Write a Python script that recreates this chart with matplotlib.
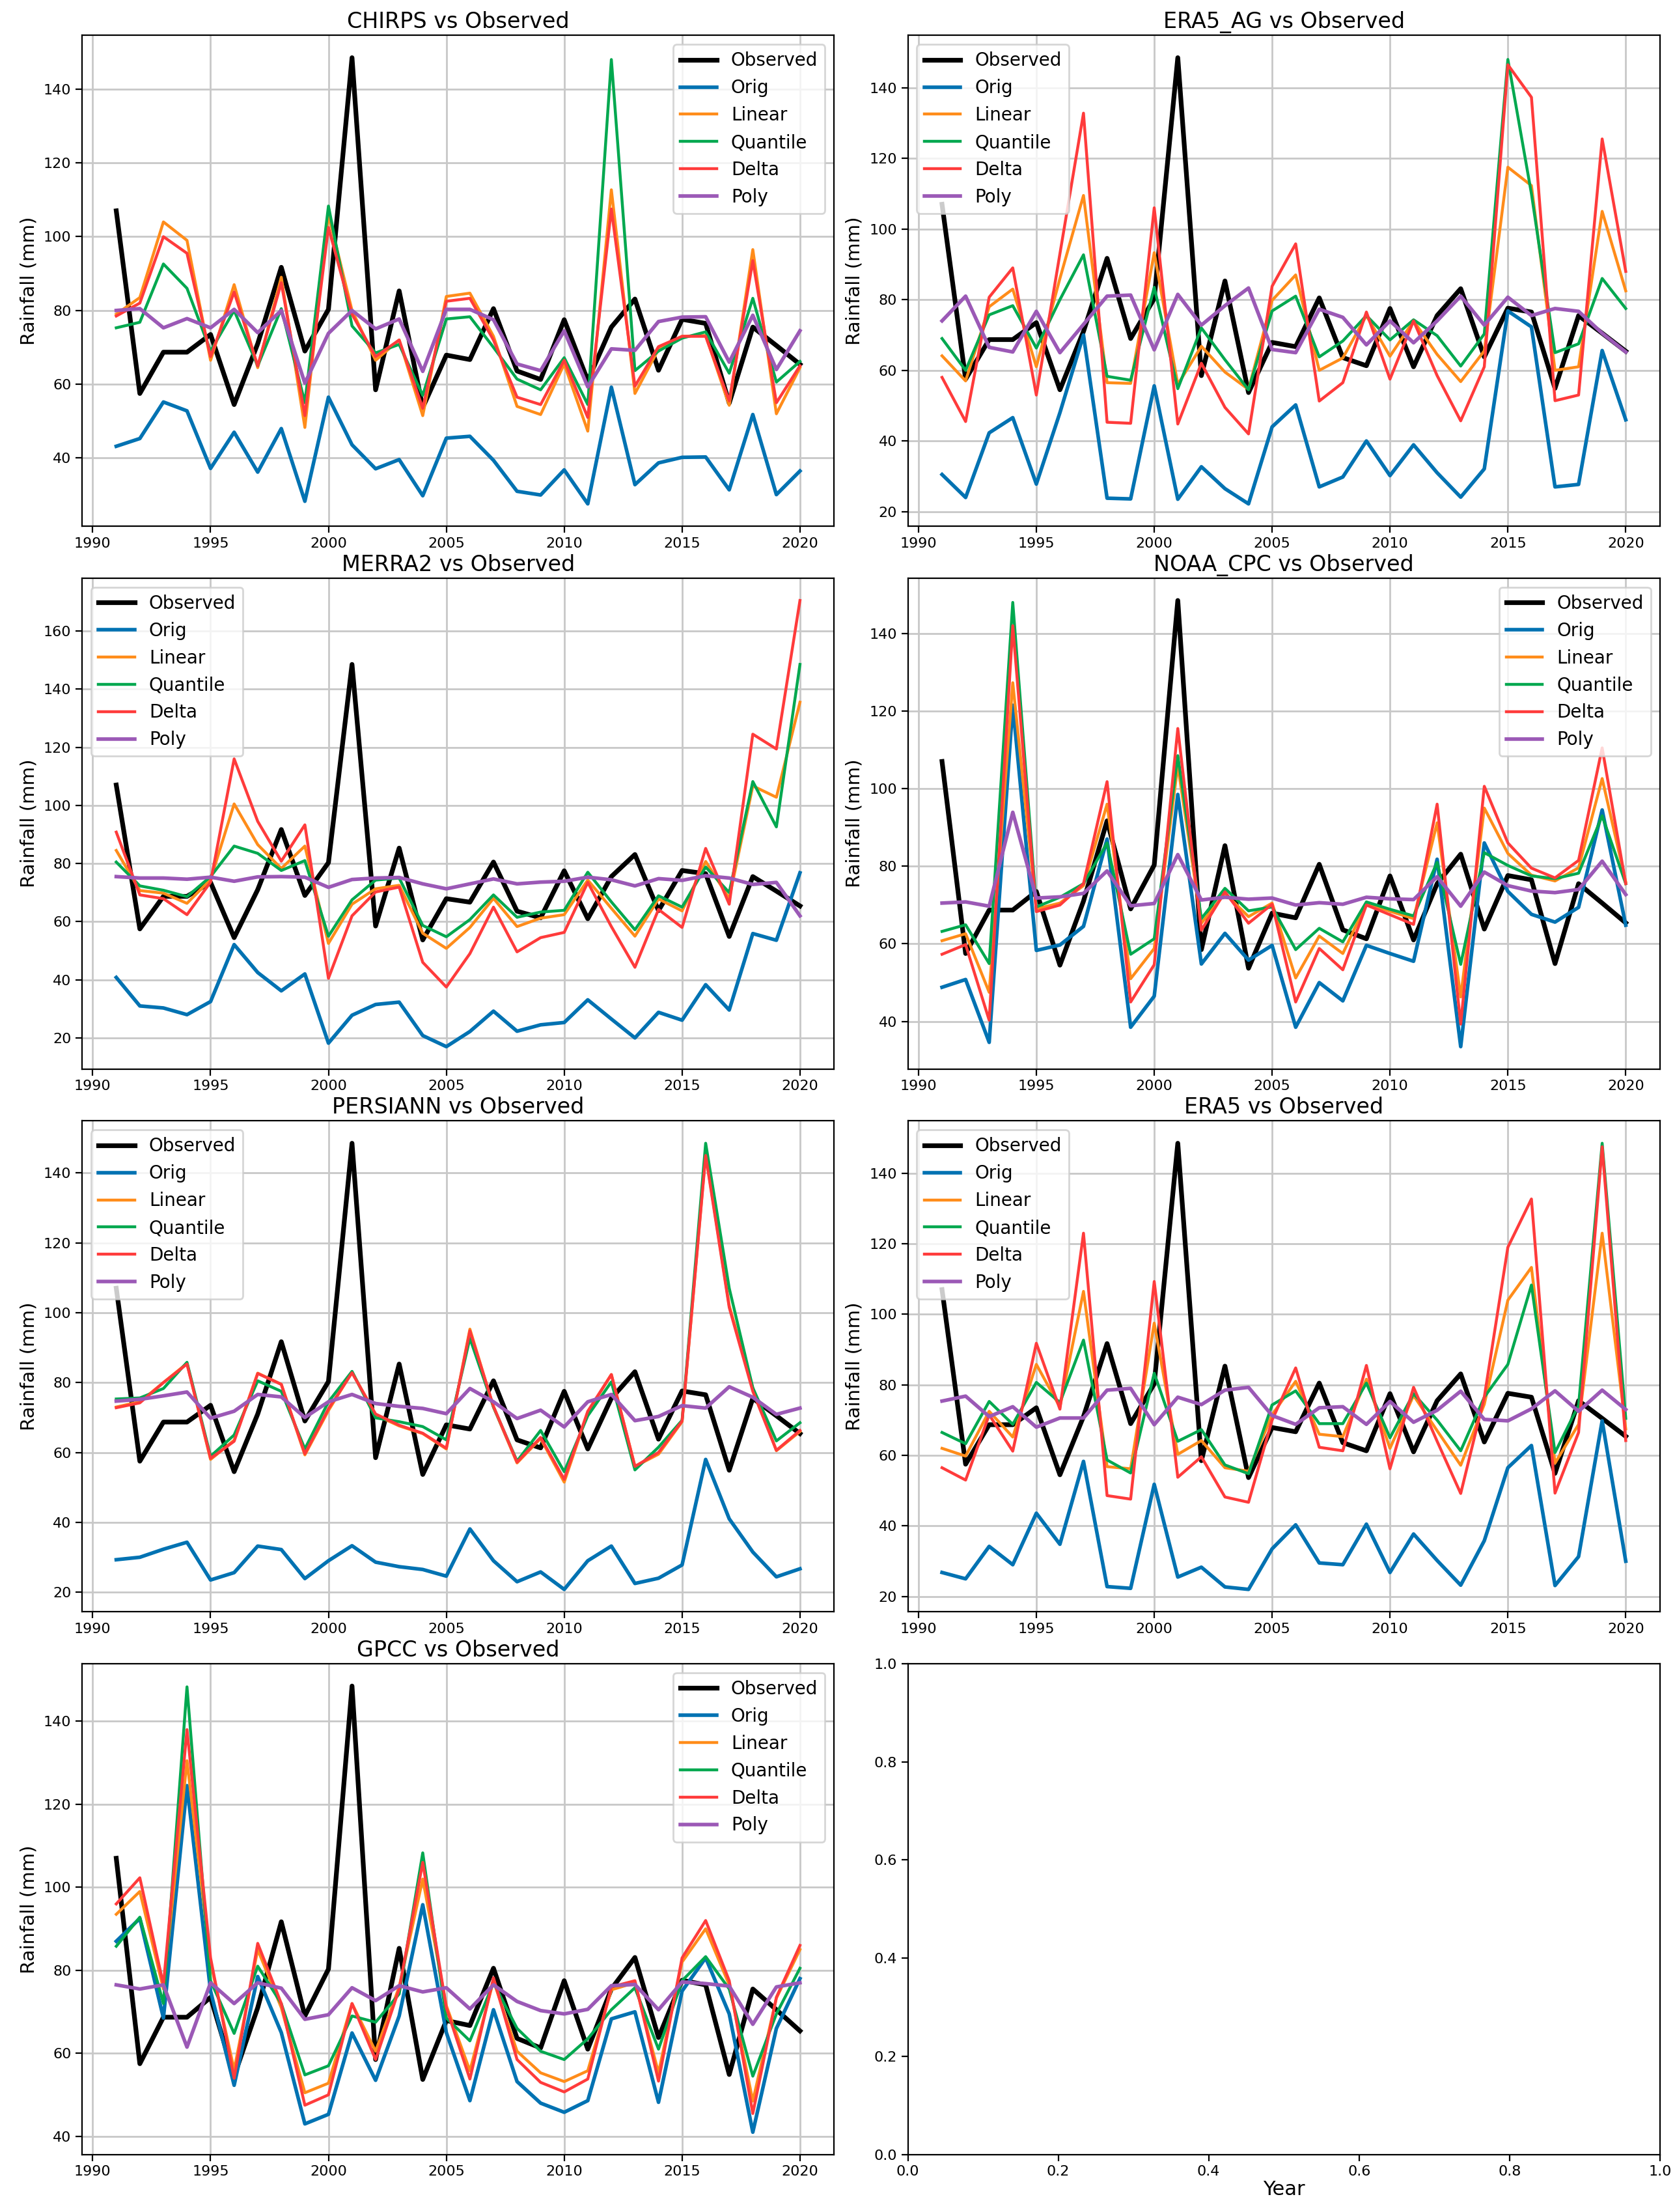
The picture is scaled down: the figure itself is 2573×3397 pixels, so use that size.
import matplotlib
matplotlib.use("Agg")
import matplotlib.pyplot as plt
import numpy as np

years = list(range(1991, 2021))

observed = [107, 57.5, 68.7, 68.7, 73.5, 54.5, 71, 91.7, 69, 80.3,
            148.5, 58.5, 85.3, 53.7, 67.9, 66.7, 80.5, 63.6, 61.3, 77.5,
            61, 75.5, 83.1, 63.8, 77.6, 76.5, 54.9, 75.5, 70.5, 65.4]

# ---- CHIRPS ----
chirps_orig = [43.2, 45.3, 55.2, 52.8, 37.2, 47, 36.2, 48, 28.3, 56.5,
               43.6, 37.1, 39.6, 29.8, 45.4, 45.9, 39.4, 31, 30, 36.8,
               27.6, 59.2, 32.8, 38.7, 40.2, 40.3, 31.4, 51.8, 30.1, 36.5]
chirps_linear = [79, 83.5, 104, 99, 66.5, 87, 64.5, 89, 48.3, 106,
                 80, 66.5, 72, 51.5, 83.8, 84.7, 73, 54, 51.8, 65.5,
                 47.3, 112.7, 57.5, 69.5, 73, 73.2, 54.3, 96.5, 52, 64.5]
chirps_quantile = [75.3, 76.8, 92.6, 86, 69, 80, 65, 80.5, 55, 108.3,
                   75.8, 68.5, 70.8, 57, 77.7, 78.3, 70, 61.4, 58.5, 67.2,
                   54.5, 148, 63.7, 69, 72.5, 74.2, 63, 83.3, 60.6, 66.2]
chirps_delta = [78.5, 82, 100, 95.5, 67.5, 85, 65, 87.5, 51.5, 102.5,
                79, 67.5, 72, 53.5, 82.5, 83.3, 72, 56.5, 54.5, 66.5,
                51, 107.5, 59.5, 70.2, 73, 73, 55.5, 93.5, 55, 65]
chirps_poly = [80, 80.5, 75.3, 77.8, 75.3, 80.3, 74, 80, 60.3, 73.8,
               80, 75, 77.7, 63.5, 80.3, 80.3, 77.5, 65.5, 63.7, 74.5,
               59.3, 69.6, 69.2, 77, 78.2, 78.3, 66, 78.7, 64, 74.5]

# ---- ERA5_AG ----
era5ag_orig = [30.5, 24, 42.3, 46.6, 27.8, 48, 70, 23.8, 23.6, 55.6,
               23.5, 32.7, 26.5, 22.2, 44, 50.2, 27, 29.8, 40, 30.2,
               38.9, 31, 24.1, 32.1, 76.8, 72.3, 27, 27.7, 65.6, 46]
era5ag_linear = [64.1, 57, 78, 83, 61, 86, 109.5, 56.5, 56.3, 93.3,
                 56, 66.8, 59.5, 54.6, 79.8, 87, 60, 63.5, 75.5, 64,
                 74, 64.5, 56.8, 65.5, 117.5, 112.3, 60, 61, 105, 82.5]
era5ag_quantile = [69, 60, 75.7, 78.3, 66.3, 80, 92.7, 58.3, 57.2, 83.5,
                   54.8, 72, 63, 54.5, 76.8, 81, 63.8, 68.3, 75.5, 68.6,
                   74.3, 69.8, 61.2, 70.3, 148, 110, 65, 67.5, 86, 77.5]
era5ag_delta = [58, 45.5, 80.7, 89, 53, 93, 132.8, 45.3, 45, 106,
                44.8, 62, 49.5, 42, 83.8, 95.8, 51.3, 56.5, 76.5, 57.5,
                74, 58.5, 45.7, 61, 146.5, 137.3, 51.4, 53, 125.5, 88]
era5ag_poly = [74, 81, 66.5, 65.2, 76.7, 65, 73, 81, 81.3, 65.8,
               81.5, 72.8, 78.3, 83.3, 65.9, 65, 77.3, 75, 67.2, 74,
               67.8, 74, 81, 72.8, 80.7, 75.5, 77.5, 76.7, 70.5, 65.2]

# ---- MERRA2 ----
merra2_orig = [40.8, 31, 30.3, 28, 32.5, 52.1, 42.5, 36.2, 42, 18.2,
               27.8, 31.5, 32.3, 20.8, 17, 22.2, 29.2, 22.3, 24.5, 25.3,
               33.1, 26.5, 20, 28.8, 26.1, 38.3, 29.6, 55.9, 53.6, 76.8]
merra2_linear = [84.5, 70.7, 69.8, 66.3, 74.5, 100.5, 86.5, 78.3, 86, 52.5,
                 66, 71.3, 72.5, 56, 50.8, 58, 68, 58.3, 61.2, 62.4,
                 74.3, 64.6, 55, 67.8, 63.7, 80.7, 68, 106.7, 102.8, 135.5]
merra2_quantile = [80.5, 72.3, 70.8, 68.6, 75.5, 86, 83.5, 77.6, 81, 55,
                   67.5, 74.3, 75, 58.7, 54.8, 60.7, 69.2, 61.5, 63.3, 63.9,
                   77, 66.8, 57.2, 68.9, 65, 78.8, 70, 108.2, 92.6, 148.5]
merra2_delta = [90.8, 69.2, 67.9, 62.4, 73.6, 116, 94.5, 80.8, 93.3, 40.5,
                62, 70.2, 71.9, 46, 37.5, 49, 65, 49.6, 54.5, 56.3,
                73.5, 58.3, 44.3, 64.2, 58, 85.2, 66, 124.5, 119.4, 170.5]
merra2_poly = [75.5, 75, 75, 74.6, 75.3, 73.9, 75.4, 75.5, 75.3, 71.8,
               74.5, 75, 75.2, 73, 71.3, 73, 74.7, 73, 73.6, 73.9,
               75.3, 74.4, 72.3, 74.8, 74.2, 75.8, 75, 72.8, 73.5, 62]

# ---- NOAA_CPC ----
noaa_orig = [48.8, 50.8, 34.6, 121.5, 58.3, 59.7, 64.5, 87, 38.5, 46.5,
             98.5, 54.8, 62.7, 55.8, 59.6, 38.5, 50, 45.3, 59.6, 57.5,
             55.5, 81.8, 33.5, 86, 73.5, 67.6, 65.6, 69.4, 94.5, 64.8]
noaa_linear = [60.8, 62.6, 47.5, 127.3, 69, 70.5, 75, 96, 51, 58.8,
               106, 65.3, 73, 67, 70.5, 51.2, 62, 57.5, 70.4, 68.4,
               66.5, 91.2, 46.3, 95, 83.3, 77.7, 76.2, 79.6, 102.6, 76]
noaa_quantile = [63.2, 64.9, 54.9, 148, 69.5, 72, 75.5, 86, 57.3, 61.3,
                 108.5, 66.5, 74.3, 68.5, 69.5, 58.5, 64, 60.5, 70.8, 68.9,
                 67.2, 81, 54.7, 83.5, 80.2, 77.5, 76.8, 78.2, 93, 75.5]
noaa_delta = [57.3, 59.8, 40.3, 142, 68.3, 70, 75.5, 101.8, 45, 54.6,
              115.5, 63.5, 73.4, 65.3, 70.2, 45, 58.8, 53.3, 70, 67.5,
              65, 96, 39.3, 100.6, 86, 79.5, 77, 81.5, 110.5, 75.5]
noaa_poly = [70.5, 70.8, 69.7, 93.9, 71.8, 72.1, 73, 78.8, 69.8, 70.4,
             83, 71.3, 72, 71.5, 71.8, 70, 70.6, 70.2, 72, 71.6,
             71.4, 77.3, 69.7, 78.5, 75, 73.6, 73.2, 74, 81.3, 72.7]

# ---- PERSIANN ----
persiann_orig = [29.3, 30, 32.3, 34.3, 23.5, 25.6, 33.2, 32.2, 23.9, 29,
                 33.3, 28.6, 27.3, 26.5, 24.6, 38.1, 29, 23, 25.8, 20.8,
                 29, 33.2, 22.5, 24, 27.8, 58, 41, 31.5, 24.4, 26.7]
persiann_linear = [73, 74.5, 80, 85.5, 58, 63.5, 82.7, 79.5, 59.3, 72,
                   83, 70.7, 67.6, 65.4, 61, 95.3, 73, 57, 64, 51.5,
                   71.5, 82.3, 56, 59.5, 68.8, 145.5, 102, 78.5, 60.5, 66]
persiann_quantile = [75.3, 75.6, 78.3, 85.8, 58.9, 65, 80.5, 77.5, 61, 74.5,
                     83.2, 69.9, 68.8, 67.4, 63.6, 92.7, 73, 57.5, 66.3, 54.5,
                     70.5, 80.2, 55, 61.5, 69.2, 148.5, 107, 78.5, 63.3, 68.5]
persiann_delta = [72.8, 74.2, 80, 85.3, 58.3, 63.2, 82.6, 79.5, 59.6, 72.5,
                  82.8, 71, 67.8, 65.5, 61.2, 94.8, 73.2, 57.2, 64.3, 52.3,
                  71.8, 82.3, 56, 60, 69, 145, 101.5, 77.5, 60.6, 66.3]
persiann_poly = [74.7, 75.2, 76.2, 77.3, 69.8, 71.8, 76.6, 75.9, 70, 74.5,
                 76.6, 74, 73.2, 72.6, 71.1, 78.3, 74.5, 69.7, 72.1, 67.3,
                 74.5, 76.6, 69.1, 70.3, 73.4, 72.7, 78.8, 75.8, 70.9, 72.7]

# ---- ERA5 ----
era5_orig = [26.8, 25, 34.2, 29, 43.6, 34.8, 58.3, 22.8, 22.3, 51.8,
             25.5, 28.3, 22.7, 22, 33.5, 40.3, 29.5, 29, 40.5, 26.8,
             37.7, 30.2, 23.2, 35.8, 56.5, 62.8, 23.1, 31.3, 69.8, 30]
era5_linear = [62, 59.8, 72.5, 65.2, 85.8, 73.7, 106.5, 56.8, 56.2, 97.5,
               60.3, 64.2, 56.5, 55.5, 71.5, 81, 66, 65.3, 81.6, 62,
               77, 67, 57.2, 74.5, 104, 113.3, 57.8, 68.8, 123, 67.5]
era5_quantile = [66.5, 63.3, 75.3, 68.8, 80.7, 75, 92.7, 58.7, 55, 83.3,
                 64, 67.3, 57.3, 54.8, 74.3, 78.3, 69, 69, 80.5, 65,
                 77.5, 70, 61.3, 76.5, 85.8, 108.3, 60.8, 74.2, 148.5, 70.5]
era5_delta = [56.5, 53, 71.5, 61.2, 91.8, 73.1, 123, 48.6, 47.6, 109.3,
              53.8, 59.6, 48.2, 46.7, 70, 84.8, 62.3, 61.3, 85.5, 56.2,
              79.3, 64, 49.2, 76.5, 119, 132.7, 49.3, 66.5, 147.5, 64.2]
era5_poly = [75.4, 76.8, 71, 73.8, 68, 70.6, 70.6, 78.5, 79, 68.7,
             76.5, 74.4, 78.5, 79.3, 71.3, 68.8, 73.5, 73.8, 68.8, 75.3,
             69.4, 72.8, 78.2, 70.2, 69.8, 73.2, 78.3, 72.5, 78.5, 73]

# ---- GPCC ----
gpcc_orig = [87, 92.5, 68.5, 124.5, 75, 52.3, 78.5, 65, 43, 45.3,
             64.9, 53.5, 69, 95.8, 65, 48.6, 70.5, 53.2, 48, 45.8,
             48.6, 68.3, 70, 48.2, 75, 83, 69.5, 41, 66, 78]
gpcc_linear = [93.5, 99, 75.5, 130.5, 82, 56, 85, 71, 50.5, 52.8,
               72, 60.5, 76, 102, 71.5, 55.8, 77.5, 60.5, 55.3, 53.2,
               55.8, 75.3, 77, 55.3, 82, 90, 76.5, 48.5, 73.3, 85]
gpcc_quantile = [85.8, 92.8, 72, 148.3, 77.5, 64.8, 81, 72, 54.8, 57,
                 69, 67.5, 74.3, 108.3, 68.5, 63, 77, 66, 60.5, 58.5,
                 63.5, 70.5, 75.8, 61, 77.5, 83.3, 75.5, 54.5, 69.5, 80.5]
gpcc_delta = [96, 102.3, 76.5, 138, 83, 54, 86.5, 72, 47.5, 50,
              72, 58.5, 75.5, 106, 71, 53.8, 78.2, 58.5, 53, 50.7,
              53.8, 76, 77.5, 53.3, 83, 92, 77.5, 45.5, 73.5, 86]
gpcc_poly = [76.5, 75.5, 76.5, 61.5, 77, 72, 77, 75.7, 68.2, 69.3,
             75.8, 72.7, 76.3, 74.8, 75.8, 70.7, 76.5, 72.5, 70.3, 69.5,
             70.6, 76.3, 76.6, 70.5, 77.2, 76.8, 76.2, 67, 76, 77]

datasets = ["CHIRPS", "ERA5_AG", "MERRA2", "NOAA_CPC", "PERSIANN", "ERA5", "GPCC"]
series = {
    "CHIRPS": (chirps_orig, chirps_linear, chirps_quantile, chirps_delta, chirps_poly),
    "ERA5_AG": (era5ag_orig, era5ag_linear, era5ag_quantile, era5ag_delta, era5ag_poly),
    "MERRA2": (merra2_orig, merra2_linear, merra2_quantile, merra2_delta, merra2_poly),
    "NOAA_CPC": (noaa_orig, noaa_linear, noaa_quantile, noaa_delta, noaa_poly),
    "PERSIANN": (persiann_orig, persiann_linear, persiann_quantile, persiann_delta, persiann_poly),
    "ERA5": (era5_orig, era5_linear, era5_quantile, era5_delta, era5_poly),
    "GPCC": (gpcc_orig, gpcc_linear, gpcc_quantile, gpcc_delta, gpcc_poly),
}
legend_loc = {"CHIRPS": "upper right", "ERA5_AG": "upper left", "MERRA2": "upper left",
              "NOAA_CPC": "upper right", "PERSIANN": "upper left", "ERA5": "upper left",
              "GPCC": "upper right"}

method_names = ["Orig", "Linear", "Quantile", "Delta", "Poly"]
method_colors = ["#0072B2", "#FF8C1A", "#00A84F", "#FF3B3B", "#9B59B6"]
method_lw = [2.0, 1.6, 1.6, 1.6, 2.0]

plt.rcParams["font.family"] = ["DejaVu Sans"]
fig, axes = plt.subplots(4, 2, figsize=(12.865, 16.985), dpi=200)
fig.subplots_adjust(left=0.049, right=0.991, top=0.984, bottom=0.026,
                    wspace=0.098, hspace=0.106)

for i, name in enumerate(datasets):
    ax = axes.flat[i]
    ax.plot(years, observed, color="black", lw=2.6, label="Observed")
    for vals, lab, col, lw in zip(series[name], method_names, method_colors, method_lw):
        ax.plot(years, vals, color=col, lw=lw, label=lab)
    ax.set_title(f"{name} vs Observed", fontsize=12, pad=4)
    ax.set_ylabel("Rainfall (mm)", fontsize=10.5, labelpad=3)
    ax.grid(True, color="#c8c8c8", lw=1.0)
    ax.tick_params(labelsize=8, pad=2.5)
    ax.set_xticks([1990, 1995, 2000, 2005, 2010, 2015, 2020])
    ax.legend(loc=legend_loc[name], fontsize=10, framealpha=0.8)

empty = axes.flat[7]
empty.tick_params(labelsize=8, pad=2.5)
empty.set_xlabel("Year", fontsize=11, labelpad=1)

fig.savefig("out.png", dpi=200)
